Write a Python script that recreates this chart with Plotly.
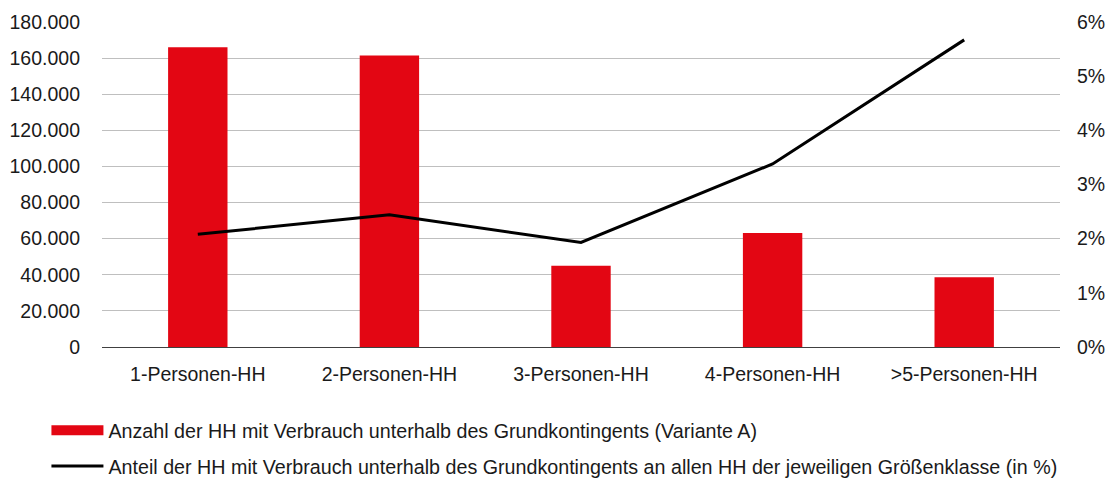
import plotly.graph_objects as go

categories = ["1-Personen-HH", "2-Personen-HH", "3-Personen-HH", "4-Personen-HH", ">5-Personen-HH"]
anzahl = [166000, 161500, 45000, 63100, 38600]
anteil = [2.08, 2.44, 1.93, 3.38, 5.67]
left_ticks = [0, 20000, 40000, 60000, 80000, 100000, 120000, 140000, 160000, 180000]
left_labels = ["0", "20.000", "40.000", "60.000", "80.000", "100.000", "120.000", "140.000", "160.000", "180.000"]
right_ticks = [0, 1, 2, 3, 4, 5, 6]
right_labels = ["0%", "1%", "2%", "3%", "4%", "5%", "6%"]

name_bar = "Anzahl der HH mit Verbrauch unterhalb des Grundkontingents (Variante A)"
name_line = "Anteil der HH mit Verbrauch unterhalb des Grundkontingents an allen HH der jeweiligen Größenklasse (in %)"

RED = "#e30613"
FONT = "Liberation Sans, Arial, sans-serif"

fig = go.Figure()
fig.add_trace(go.Bar(x=categories, y=anzahl, marker=dict(color=RED, line=dict(width=0)),
                     showlegend=False, name=name_bar))
fig.add_trace(go.Scatter(x=[None], y=[None], mode="lines", line=dict(color=RED, width=10),
                         name=name_bar, legendgroup="a"))
fig.add_trace(go.Scatter(x=categories, y=anteil, mode="lines", line=dict(color="black", width=3),
                         name=name_line, yaxis="y2", legendgroup="b"))

# the page body adds an 8px offset, so the figure is 8px smaller and margins shifted
fig.update_layout(
    width=1108, height=473,
    margin=dict(l=94, r=56, t=14, b=134, autoexpand=False),
    paper_bgcolor="white", plot_bgcolor="white",
    font=dict(family=FONT, size=19.5, color="#1a1a1a"),
    bargap=0.69,
    xaxis=dict(showgrid=False, ticks="", showline=False, tickfont=dict(size=19.5),
               ticklabelstandoff=13, automargin=False),
    yaxis=dict(range=[0, 180000], tickvals=left_ticks, ticktext=left_labels,
               showgrid=True, gridcolor="#bfbfbf", gridwidth=1,
               zeroline=True, zerolinecolor="#404040", zerolinewidth=1,
               ticks="", ticklabelstandoff=21, tickfont=dict(size=19.5), automargin=False),
    yaxis2=dict(range=[0, 6], tickvals=right_ticks, ticktext=right_labels,
                overlaying="y", side="right", showgrid=False, zeroline=False,
                ticks="", ticklabelstandoff=16, tickfont=dict(size=19.5), automargin=False),
    legend=dict(orientation="v", x=-0.058, xanchor="left", y=-0.197, yanchor="top",
                font=dict(size=19.7), itemwidth=52, tracegroupgap=7,
                bgcolor="rgba(0,0,0,0)"),
)

fig.write_html("out.html")
